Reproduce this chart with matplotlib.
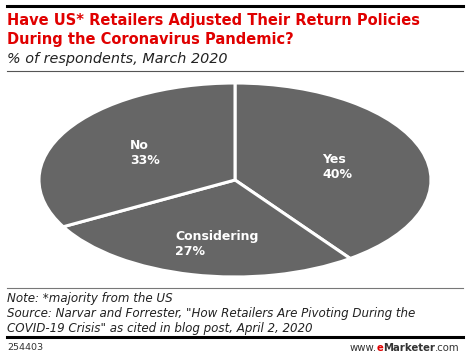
import matplotlib
matplotlib.use("Agg")
import matplotlib.pyplot as plt
from matplotlib.lines import Line2D

labels = ["Yes", "Considering", "No"]
values = [40, 27, 33]
label_pos = [(322, 178), (175, 255), (130, 164)]  # pixel, left/last baseline of text

W, H = 470, 358
fig = plt.figure(figsize=(W / 100, H / 100), dpi=100)

def px(x, y):
    return x / W, 1 - y / H

# pie axes: ellipse bounding box
left, top, right, bottom = 39, 83, 431, 277
ax = fig.add_axes([left / W, 1 - bottom / H, (right - left) / W, (bottom - top) / H])
ax.pie(values, startangle=90, counterclock=False, colors=["#666666"] * 3,
       wedgeprops=dict(edgecolor="white", linewidth=2.2), radius=1)
ax.set_aspect("auto")
ax.set_xlim(-1, 1)
ax.set_ylim(-1, 1)
ax.axis("off")

for lab, v, (x, y) in zip(labels, values, label_pos):
    fig.text(*px(x, y), f"{lab}\n{v}%", color="white", fontsize=9, fontweight="bold",
             ha="left", va="baseline", linespacing=1.2)

# rules
def hline(y, lw, color):
    fig.add_artist(Line2D([7 / W, 463 / W], [1 - y / H, 1 - y / H], lw=lw, color=color,
                          transform=fig.transFigure))

hline(6, 2.2, "#000000")
hline(71, 0.8, "#555555")
hline(288, 0.8, "#777777")
hline(337, 2.2, "#000000")

fig.text(*px(7, 30), "Have US* Retailers Adjusted Their Return Policies\nDuring the Coronavirus Pandemic?",
         color="#e00000", fontsize=10.5, fontweight="bold", ha="left", va="center", linespacing=1.3)
fig.text(*px(7, 59), "% of respondents, March 2020", color="#222222", fontsize=10.4,
         style="italic", ha="left", va="center")

fig.text(*px(7, 313.5), "Note: *majority from the US\nSource: Narvar and Forrester, \"How Retailers Are Pivoting During the\nCOVID-19 Crisis\" as cited in blog post, April 2, 2020",
         color="#222222", fontsize=8.6, style="italic", ha="left", va="center", linespacing=1.18)

fs = 7.3
fig.text(*px(7, 348), "254403", color="#333333", fontsize=6.8, ha="left", va="center")
t3 = fig.text(*px(460, 348), ".com", color="#333333", fontsize=fs, ha="right", va="center")
fig.canvas.draw()
r = fig.canvas.get_renderer()
bb = t3.get_window_extent(r)
t2 = fig.text(bb.x0 / W, 1 - 348 / H, "Marketer", color="#333333", fontsize=fs,
              fontweight="bold", ha="right", va="center")
bb = t2.get_window_extent(r)
t1 = fig.text(bb.x0 / W, 1 - 348 / H, "e", color="#e00000", fontsize=fs,
              fontweight="bold", ha="right", va="center")
bb = t1.get_window_extent(r)
fig.text(bb.x0 / W, 1 - 348 / H, "www.", color="#333333", fontsize=fs, ha="right", va="center")

fig.savefig("out.png", dpi=100)
